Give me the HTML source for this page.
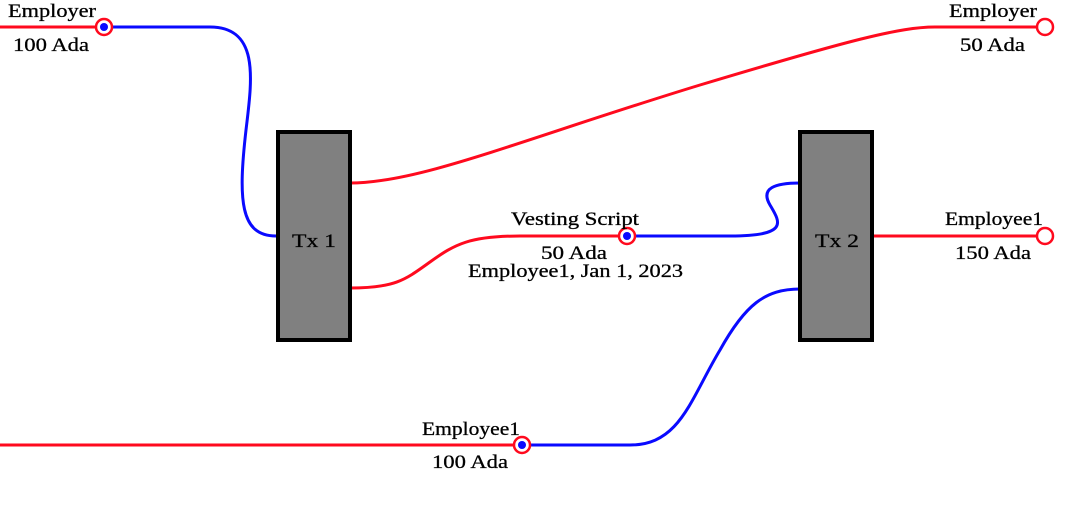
<!DOCTYPE html>
<html><head><meta charset="utf-8"><style>
html,body{margin:0;padding:0;background:#fff;}
svg{display:block;}
text{font-family:"Liberation Serif",serif;font-size:19px;fill:#000;stroke:#000;stroke-width:0.3;}
</style></head><body>
<svg width="1089" height="505" viewBox="0 0 1089 505" xmlns="http://www.w3.org/2000/svg">
<g fill="none" stroke-width="3">
<path d="M0 27 H96" stroke="#ff0a1e"/>
<path d="M112 27 H210 C260 27 252 80 246 130 C238 200 240 236 276 236" stroke="#0a0aff"/>
<path d="M350 183 C420 183 520 140 700 85 C850 40 900 27 935 27 H1037" stroke="#ff0a1e"/>
<path d="M350 288 C395 288 405 280 430 262 C455 244 470 236 520 236 H618" stroke="#ff0a1e"/>
<path d="M635 236 H730 C790 236 780 222 770 205 C760 188 775 183 800 183" stroke="#0a0aff"/>
<path d="M873 236 H1037" stroke="#ff0a1e"/>
<path d="M0 445 H514" stroke="#ff0a1e"/>
<path d="M530 445 H630 C680 445 690 400 720 350 C745 305 765 289 800 289" stroke="#0a0aff"/>
</g>
<rect x="278" y="132" width="72" height="208" fill="#808080" stroke="#000" stroke-width="4"/>
<rect x="800" y="132" width="72" height="208" fill="#808080" stroke="#000" stroke-width="4"/>
<g stroke="#ff0a1e" stroke-width="2.5" fill="#fff">
<circle cx="104" cy="27" r="8"/><circle cx="1045" cy="27" r="8"/>
<circle cx="627" cy="236" r="8"/><circle cx="1045" cy="236" r="8"/>
<circle cx="522" cy="445" r="8"/>
</g>
<g fill="#0a0aff">
<circle cx="104" cy="27" r="4"/><circle cx="627" cy="236" r="4"/><circle cx="522" cy="445" r="4"/>
</g>
<g>
<text x="8" y="17" textLength="88" lengthAdjust="spacingAndGlyphs">Employer</text>
<text x="13" y="51" textLength="76" lengthAdjust="spacingAndGlyphs">100 Ada</text>
<text x="949" y="17" textLength="88" lengthAdjust="spacingAndGlyphs">Employer</text>
<text x="960" y="51" textLength="65" lengthAdjust="spacingAndGlyphs">50 Ada</text>
<text x="511" y="225" textLength="128" lengthAdjust="spacingAndGlyphs">Vesting Script</text>
<text x="541" y="259" textLength="66" lengthAdjust="spacingAndGlyphs">50 Ada</text>
<text x="468" y="277" textLength="215" lengthAdjust="spacingAndGlyphs">Employee1, Jan 1, 2023</text>
<text x="945" y="225" textLength="98" lengthAdjust="spacingAndGlyphs">Employee1</text>
<text x="955" y="259" textLength="76" lengthAdjust="spacingAndGlyphs">150 Ada</text>
<text x="422" y="435" textLength="98" lengthAdjust="spacingAndGlyphs">Employee1</text>
<text x="432" y="468" textLength="76" lengthAdjust="spacingAndGlyphs">100 Ada</text>
<text x="292" y="247" textLength="44" lengthAdjust="spacingAndGlyphs">Tx 1</text>
<text x="815" y="247" textLength="44" lengthAdjust="spacingAndGlyphs">Tx 2</text>
</g>
</svg>
</body></html>
